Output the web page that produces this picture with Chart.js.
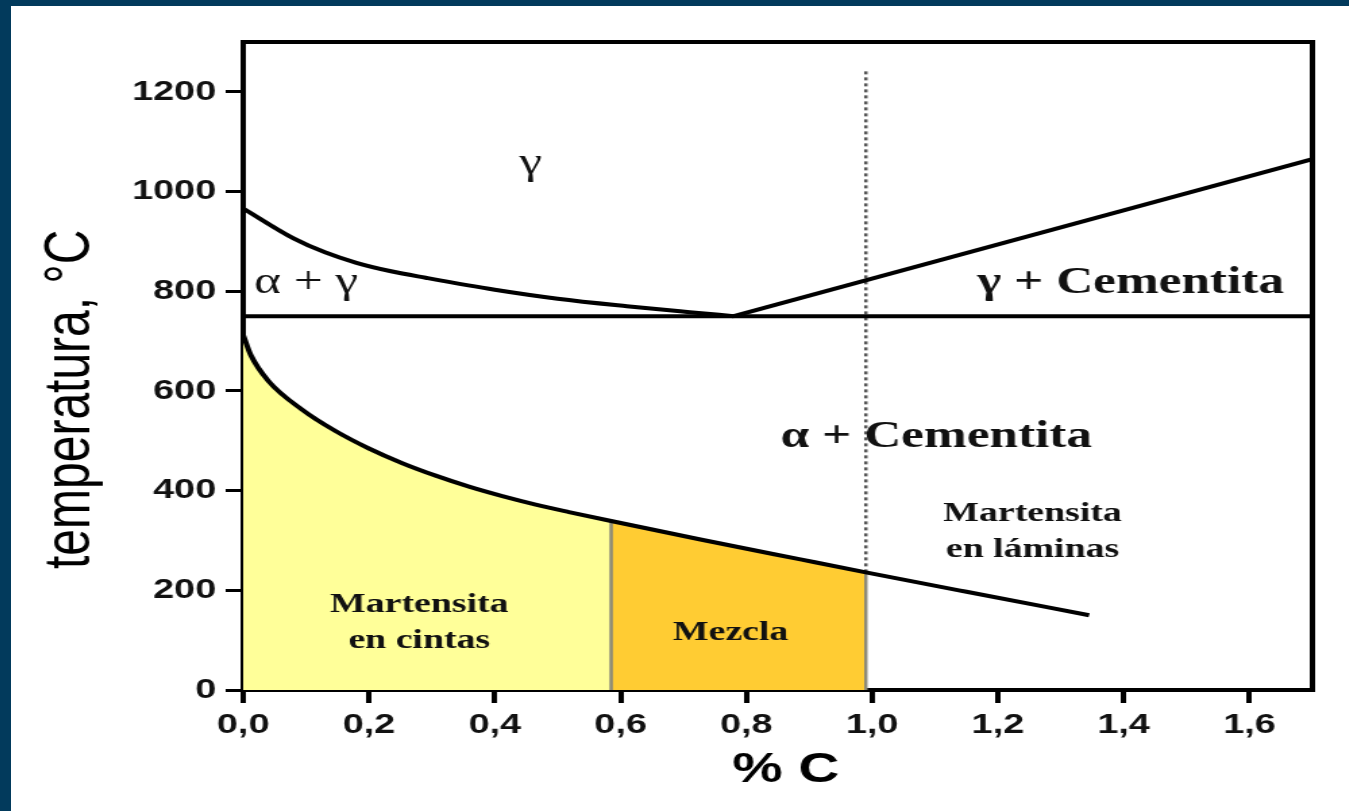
<!DOCTYPE html>
<html>
<head>
<meta charset="utf-8">
<script src="https://cdn.jsdelivr.net/npm/chart.js@4.4.1/dist/chart.umd.min.js"></script>
<style>
  html, body { margin: 0; padding: 0; background: #023a5c; overflow: hidden; }
  #sheet { position: absolute; left: 11px; top: 6px; width: 1338px; height: 805px; background: #fff; overflow: hidden; }
  #diagram { position: absolute; left: 0; top: 0; transform: scaleX(1.35); transform-origin: 0 0; }
</style>
</head>
<body>
<div id="sheet"><canvas id="diagram" width="991" height="805"></canvas></div>
<script>
// A3 line (upper limit of alpha + gamma), A1 eutectoid line, Acm line
const a3Carbon = [0, 0.08, 0.13, 0.18, 0.235, 0.29, 0.40, 0.50, 0.61, 0.71, 0.78];
const a3Temp   = [966, 906, 878, 857, 840, 827, 803, 785, 770, 758, 750];
const a1Carbon = [0, 1.7];
const a1Temp   = [750, 750];
const acmCarbon = [0.78, 1.7];
const acmTemp   = [750, 1065];

// martensite start temperature (Ms)
const msCarbon = [0, 0.012, 0.04, 0.093, 0.146, 0.199, 0.253, 0.306, 0.359, 0.412, 0.465, 0.518, 0.585, 0.727, 0.886, 0.99, 1.15, 1.345];
const msTemp   = [712, 672, 620, 563, 520, 485, 455, 430, 408, 389, 372, 357, 339, 302, 262, 236, 197, 150];

// carbon limits between martensite types
const lathLimit = 0.585;   // en cintas up to here
const plateLimit = 0.99;   // mezcla up to here
const dottedTop = 1245;

// axis ticks
const xTicks = [0, 0.2, 0.4, 0.6, 0.8, 1.0, 1.2, 1.4, 1.6];
const yTicks = [0, 200, 400, 600, 800, 1000, 1200];

// region labels
const regionText = [['γ'], ['α + γ'], ['γ + Cementita'], ['α + Cementita'],
                    ['Martensita', 'en láminas'], ['Martensita', 'en cintas'], ['Mezcla']];
const regionCarbon = [0.457, 0.10, 1.411, 1.102, 1.255, 0.280, 0.775];
const regionTemp   = [1036, 797, 797, 487, 340, 157, 100];

const sans = '"Liberation Sans", Arial, sans-serif';
const serif = '"Liberation Serif", "Times New Roman", serif';
const nbsp = '\u00A0';

function pts(xs, ys) {
    return xs.map((x, i) => ({ x: x, y: ys[i] }));
}

function msAt(c) {
    return msTemp[msCarbon.indexOf(c)];
}

const msPoints = pts(msCarbon, msTemp);
const lathFill = msPoints.filter(p => p.x <= lathLimit);
const mixFill = msPoints.filter(p => p.x >= lathLimit && p.x <= plateLimit);

// top and right side of the frame
const framePlugin = {
    id: 'frame',
    afterDraw(chart) {
        const { ctx, chartArea: a } = chart;
        ctx.save();
        ctx.strokeStyle = '#000';
        ctx.lineWidth = 4;
        ctx.beginPath();
        ctx.moveTo(a.left - 2, a.top);
        ctx.lineTo(a.right, a.top);
        ctx.lineTo(a.right, a.bottom + 2);
        ctx.stroke();
        ctx.restore();
    }
};

// phase names written inside the diagram
const labelPlugin = {
    id: 'regionLabels',
    afterDatasetsDraw(chart) {
        const { ctx, scales } = chart;
        ctx.save();
        ctx.fillStyle = '#111';
        ctx.textAlign = 'center';
        ctx.textBaseline = 'alphabetic';
        regionText.forEach((lines, i) => {
            const big = i < 4;
            const weight = i < 2 ? 'normal' : 'bold';
            ctx.font = weight + ' ' + (big ? 38 : 28) + 'px ' + serif;
            const px = scales.x.getPixelForValue(regionCarbon[i]);
            const py = scales.y.getPixelForValue(regionTemp[i]);
            lines.forEach((t, j) => ctx.fillText(t, px, py + j * 36));
        });
        ctx.restore();
    }
};

const line = {
    showLine: true,
    pointRadius: 0,
    borderColor: '#000',
    borderWidth: 4,
    fill: false,
    order: 1
};

const ctx = document.getElementById('diagram').getContext('2d');
new Chart(ctx, {
    type: 'scatter',
    data: {
        datasets: [
            { ...line, data: lathFill, borderWidth: 0, backgroundColor: '#ffff99', fill: 'origin',
              cubicInterpolationMode: 'monotone', order: 3 },
            { ...line, data: mixFill, borderWidth: 0, backgroundColor: '#ffcc33', fill: 'origin',
              cubicInterpolationMode: 'monotone', order: 3 },
            { ...line, data: [{ x: lathLimit, y: 0 }, { x: lathLimit, y: msAt(lathLimit) }],
              borderColor: '#8c8a78', borderWidth: 2.5, order: 2 },
            { ...line, data: [{ x: plateLimit, y: 0 }, { x: plateLimit, y: msAt(plateLimit) }],
              borderColor: '#8c8a78', borderWidth: 2.5, order: 2 },
            { ...line, data: [{ x: plateLimit, y: msAt(plateLimit) }, { x: plateLimit, y: dottedTop }],
              borderColor: '#555', borderWidth: 2.5, borderDash: [3, 3], order: 2 },
            { ...line, data: pts(a3Carbon, a3Temp), cubicInterpolationMode: 'monotone' },
            { ...line, data: pts(a1Carbon, a1Temp) },
            { ...line, data: pts(acmCarbon, acmTemp) },
            { ...line, data: msPoints, cubicInterpolationMode: 'monotone' }
        ]
    },
    options: {
        responsive: false,
        animation: false,
        events: [],
        layout: { padding: { top: 36, right: 27, left: 0, bottom: 0 } },
        plugins: {
            legend: { display: false },
            tooltip: { enabled: false }
        },
        scales: {
            x: {
                type: 'linear',
                min: 0,
                max: 1.7,
                afterFit: s => { s.height = 121; },
                afterBuildTicks: s => { s.ticks = xTicks.map(v => ({ value: v })); },
                ticks: {
                    color: '#111',
                    padding: 5,
                    font: { family: sans, size: 28, weight: 'bold' },
                    callback: v => v.toFixed(1).replace('.', ',')
                },
                grid: { drawOnChartArea: false, drawTicks: true, tickLength: 13, color: '#000', lineWidth: 4 },
                border: { display: true, color: '#000', width: 4 },
                title: {
                    display: true,
                    text: nbsp + '% C',
                    color: '#000',
                    font: { family: sans, size: 42, weight: 'bold' },
                    padding: { top: 0, bottom: 15 }
                }
            },
            y: {
                type: 'linear',
                min: 0,
                max: 1300,
                afterFit: s => { s.width = 172; },
                afterBuildTicks: s => { s.ticks = yTicks.map(v => ({ value: v })); },
                ticks: {
                    color: '#111',
                    padding: 7,
                    font: { family: sans, size: 28, weight: 'bold' },
                    callback: v => String(v)
                },
                grid: { drawOnChartArea: false, drawTicks: true, tickLength: 13, color: '#000', lineWidth: 3 },
                border: { display: true, color: '#000', width: 4 },
                title: {
                    display: true,
                    text: 'temperatura, °C' + nbsp.repeat(5),
                    color: '#000',
                    font: { family: sans, size: 48, weight: 'normal' },
                    padding: { top: 16, bottom: 0 }
                }
            }
        }
    },
    plugins: [framePlugin, labelPlugin]
});
</script>
</body>
</html>
